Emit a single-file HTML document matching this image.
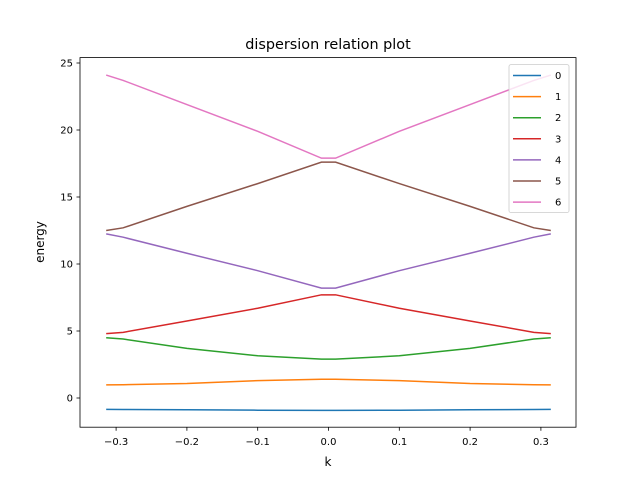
<!DOCTYPE html>
<html><head><meta charset="utf-8"><style>
body{margin:0;background:#fff;font-family:"Liberation Sans","DejaVu Sans",sans-serif}
svg text{font-family:"DejaVu Sans","Liberation Sans",sans-serif}
</style></head><body>
<svg id="chart" width="640" height="480" xmlns="http://www.w3.org/2000/svg">
<rect width="640" height="480" fill="#fff"/>
<text x="328" y="49" font-size="14.4" text-anchor="middle">dispersion relation plot</text>
<g id="plot"></g>
<rect x="80" y="57.6" width="496" height="369.6" fill="none" stroke="#000" stroke-width="0.8"/>
<g id="xt"></g><g id="yt"></g>
<text x="328" y="466" font-size="12" text-anchor="middle">k</text>
<text transform="translate(44,242) rotate(-90)" font-size="12" text-anchor="middle">energy</text>
<g id="legend"></g>
</svg>
<script>
const ks=[-0.314,-0.29,-0.2,-0.1,-0.01,0,0.01,0.1,0.2,0.29,0.314];
const s0=[-0.85,-0.86,-0.88,-0.91,-0.92,-0.92,-0.92,-0.91,-0.88,-0.86,-0.85];
const s1=[0.98,0.99,1.08,1.3,1.4,1.4,1.4,1.3,1.08,0.99,0.98];
const s2=[4.5,4.4,3.7,3.15,2.9,2.9,2.9,3.15,3.7,4.4,4.5];
const s3=[4.8,4.9,5.75,6.7,7.7,7.7,7.7,6.7,5.75,4.9,4.8];
const s4=[12.25,12.0,10.8,9.5,8.2,8.2,8.2,9.5,10.8,12.0,12.25];
const s5=[12.5,12.7,14.3,16.0,17.6,17.6,17.6,16.0,14.3,12.7,12.5];
const s6=[24.1,23.7,21.9,19.9,17.9,17.9,17.9,19.9,21.9,23.7,24.1];
const seriesNames=["0","1","2","3","4","5","6"];
const xTicks=[-0.3,-0.2,-0.1,0.0,0.1,0.2,0.3];
const xTickLabels=["\u22120.3","\u22120.2","\u22120.1","0.0","0.1","0.2","0.3"];
const yTicks=[0,5,10,15,20,25];
const series=[s0,s1,s2,s3,s4,s5,s6];
const colors=["#1f77b4","#ff7f0e","#2ca02c","#d62728","#9467bd","#8c564b","#e377c2"];
const NS="http://www.w3.org/2000/svg";
const X=k=>328.5+k*708;
const Y=v=>398-v*13.4;
function mk(tag,attrs,parent){const e=document.createElementNS(NS,tag);for(const a in attrs)e.setAttribute(a,attrs[a]);parent.appendChild(e);return e;}
const plot=document.getElementById('plot');
series.forEach((s,i)=>{
 const p=mk('polyline',{points:s.map((v,j)=>X(ks[j])+','+Y(v)).join(' '),fill:'none',stroke:colors[i],'stroke-width':1.5},plot);
 
 
});
const xt=document.getElementById('xt');
xTicks.forEach((t,i)=>{
 const l=mk('line',{x1:X(t),x2:X(t),y1:427.2,y2:430.7,stroke:'#000','stroke-width':0.8},xt);
 
 
 const tx=mk('text',{x:X(t),y:445,'font-size':10,'text-anchor':'middle'},xt);
 tx.textContent=xTickLabels[i];
 
 
});
const yt=document.getElementById('yt');
yTicks.forEach(t=>{
 const l=mk('line',{x1:76.5,x2:80,y1:Y(t),y2:Y(t),stroke:'#000','stroke-width':0.8},yt);
 
 
 const tx=mk('text',{x:73,y:Y(t)+3.5,'font-size':10,'text-anchor':'end'},yt);
 tx.textContent=t;
 
 
});
const lg=document.getElementById('legend');
const box=mk('rect',{x:509,y:64.6,width:60,height:148,rx:2,fill:'#fff','fill-opacity':0.8,stroke:'#ccc','stroke-width':0.8},lg);


seriesNames.forEach((n,i)=>{
 const y=75.5+i*21.1;
 const l=mk('line',{x1:513,x2:541,y1:y,y2:y,stroke:colors[i],'stroke-width':1.5},lg);
 
 
 const t=mk('text',{x:555,y:y+3.5,'font-size':10},lg);
 t.textContent=n;
 
 
});
</script>
</body></html>
